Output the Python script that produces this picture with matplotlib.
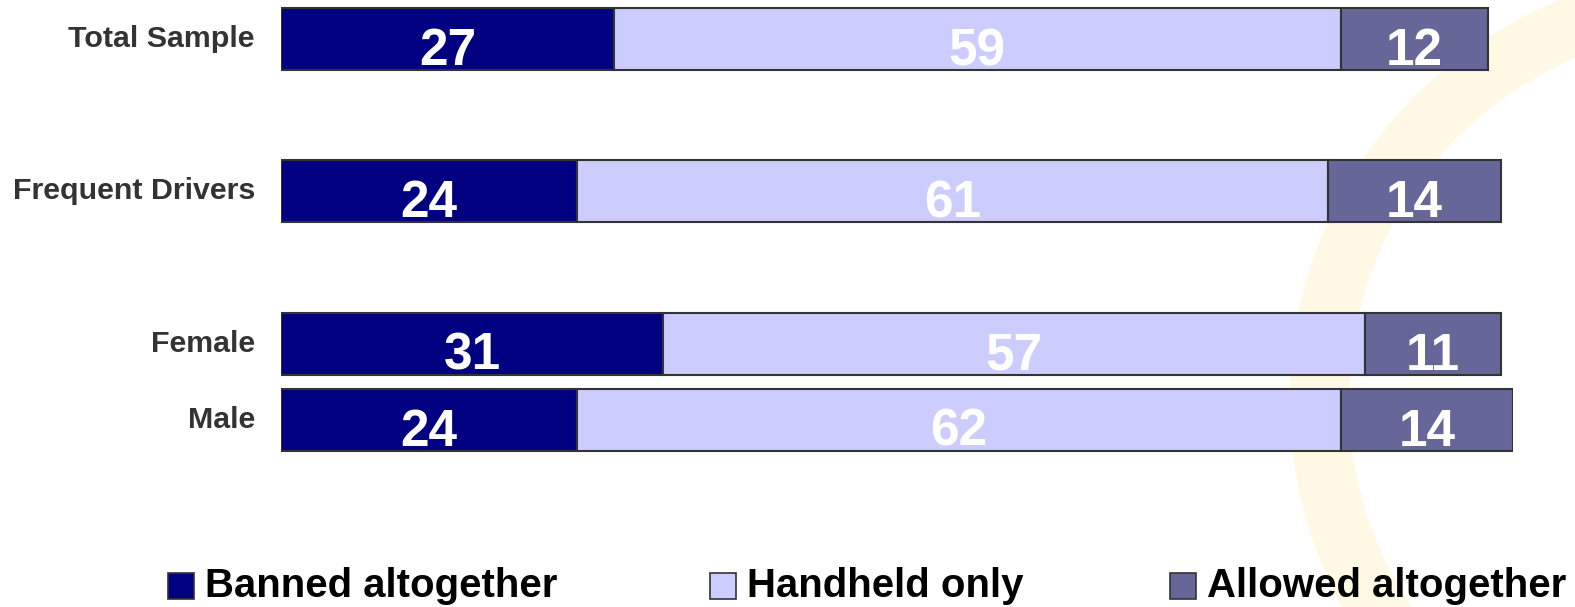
import numpy as np
import matplotlib.pyplot as plt
from matplotlib.patches import Rectangle, Wedge

# datos
grupos = ['Total Sample', 'Frequent Drivers', 'Female', 'Male']
posiciones = [0, 2, 4, 5]
banned = [27, 24, 31, 24]
handheld = [59, 61, 57, 62]
allowed = [12, 14, 11, 14]
series = ['Banned altogether', 'Handheld only', 'Allowed altogether']
colores = ['#000080', '#CCCCFF', '#666699']

W, H = 1575, 607
fig = plt.figure(figsize=(W / 100, H / 100), dpi=100)
plt.rcParams['font.family'] = ['Liberation Sans', 'DejaVu Sans']

# arco decorativo de fondo
fondo = fig.add_axes([0, 0, 1, 1], zorder=0)
fondo.set_xlim(0, W)
fondo.set_ylim(H, 0)
fondo.axis('off')
fondo.add_patch(Wedge((1720, 400), 430, 0, 360, width=58, color='#FFF8E4'))

# ejes: x 0..100 entre px 281 y 1513, y en unidades de posicion
unidad = (420 - 39) / 5
y_top = -39 / unidad
y_bot = (470 - 39) / unidad
ax = fig.add_axes([281 / W, 1 - 470 / H, (1513 - 281) / W, 470 / H], zorder=1)
ax.patch.set_alpha(0)
ax.set_xlim(0, 100)
ax.set_ylim(y_bot, y_top)
ax.axis('off')

alto = 62 / unidad
izq = np.zeros(len(grupos))
for vals, color in zip([banned, handheld, allowed], colores):
    vals = np.array(vals)
    ax.barh(posiciones, vals, left=izq, height=alto, color=color,
            edgecolor='#333333', linewidth=1.5)
    for p, l, v in zip(posiciones, izq, vals):
        ax.text(l + v / 2, p + 26 / unidad, str(v), ha='center', va='baseline',
                color='white', fontsize=37, fontweight='bold')
    izq = izq + vals

# etiquetas de grupos
for g, p in zip(grupos, posiciones):
    ax.text(-26 / 12.32, p, g, ha='right', va='center', color='#333333',
            fontsize=21.9, fontweight='bold')

# leyenda manual
leg_x = [168, 710, 1170]
for nombre, color, x0 in zip(series, colores, leg_x):
    fondo.add_patch(Rectangle((x0, 573), 26, 26, facecolor=color,
                              edgecolor='#333333', linewidth=1.2))
    fondo.text(x0 + 37, 586, nombre, ha='left', va='center', color='black',
               fontsize=28.9, fontweight='bold')

fig.savefig('out.png', dpi=100)
